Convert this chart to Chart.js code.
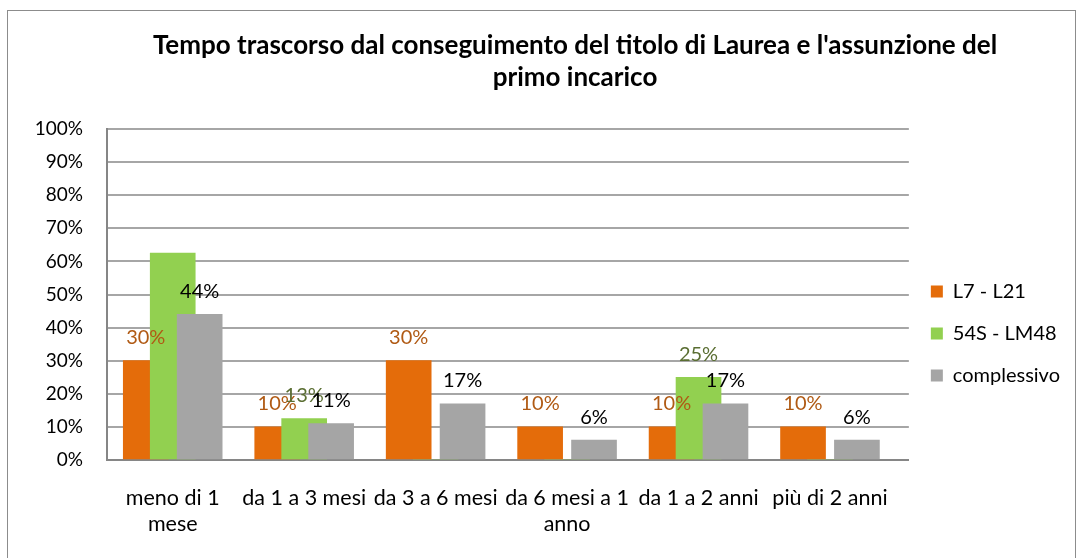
<!DOCTYPE html>
<html>
<head>
<meta charset="utf-8">
<script src="https://cdn.jsdelivr.net/npm/chart.js@4"></script>
<style>
  html, body { margin: 0; padding: 0; background: #fff; }
  #wrap { position: relative; width: 1080px; height: 558px; overflow: hidden; }
  #frame { position: absolute; left: 7px; top: 10px; width: 1067px; height: 600px; border: 1px solid #8c8c8c; }
  #myChart { position: absolute; left: 0; top: 0; }
</style>
</head>
<body>
<div id="wrap">
  <div id="frame"></div>
  <canvas id="myChart" width="1080" height="558"></canvas>
</div>
<script>
const categories = [['meno di 1', 'mese'], 'da 1 a 3 mesi', 'da 3 a 6 mesi', ['da 6 mesi a 1', 'anno'], 'da 1 a 2 anni', 'più di 2 anni'];
const l7l21 = [30, 10, 30, 10, 10, 10];
const s54lm48 = [62.5, 12.5, 0, 0, 25, 0];
const complessivo = [44, 11, 17, 6, 17, 6];
const yTicks = [0, 10, 20, 30, 40, 50, 60, 70, 80, 90, 100];
// the 63% label is not shown in the original
const greenLabelShown = [false, true, true, true, true, true];

Chart.defaults.font.family = 'Lato, "Liberation Sans", sans-serif';
Chart.defaults.color = '#000';

const shift = 0.205;
const toPoints = (arr, dx) => arr.map((v, i) => ({ x: i + dx, y: v }));

const barLabels = {
    id: 'barLabels',
    afterDatasetsDraw(chart) {
        const c = chart.ctx;
        c.save();
        c.font = '20px Lato, "Liberation Sans", sans-serif';
        c.textAlign = 'center';
        c.textBaseline = 'middle';
        chart.data.datasets.forEach((ds, di) => {
            const meta = chart.getDatasetMeta(di);
            meta.data.forEach((bar, i) => {
                const v = ds.data[i].y;
                if (!v) return;
                if (di === 1 && !greenLabelShown[i]) return;
                c.fillStyle = ds.labelColor;
                c.fillText(Math.round(v) + '%', bar.x, bar.y - 23);
            });
        });
        c.restore();
    }
};

// the title in the original sits a bit right of the canvas centre
const titleShift = {
    id: 'titleShift',
    afterLayout(chart) {
        chart.titleBlock.left = 80;
    }
};

new Chart(document.getElementById('myChart'), {
    type: 'bar',
    data: {
        datasets: [
            {
                label: 'L7 - L21',
                data: toPoints(l7l21, -shift),
                backgroundColor: '#E46C0A',
                labelColor: '#B05A14',
                order: 3
            },
            {
                label: '54S - LM48',
                data: toPoints(s54lm48, 0),
                backgroundColor: '#92D050',
                labelColor: '#5A6E32',
                order: 2
            },
            {
                label: 'complessivo',
                data: toPoints(complessivo, shift),
                backgroundColor: '#A5A5A5',
                labelColor: '#000',
                order: 1
            }
        ]
    },
    options: {
        responsive: false,
        animation: false,
        grouped: false,
        barThickness: 45,
        layout: { padding: { left: 0, right: 10, top: 0, bottom: 0 } },
        plugins: {
            title: {
                display: true,
                text: ["Tempo trascorso dal conseguimento del titolo di Laurea e l'assunzione del", 'primo incarico'],
                font: { size: 26, weight: 'bold', lineHeight: 1.25 },
                padding: { top: 29, bottom: 35 },
                color: '#000'
            },
            legend: {
                position: 'right',
                title: { display: true, text: '', font: { size: 10 }, padding: { top: 97, bottom: 0 } },
                labels: {
                    boxWidth: 12,
                    boxHeight: 12,
                    padding: 22,
                    font: { size: 20 },
                    sort: (a, b) => a.datasetIndex - b.datasetIndex
                }
            },
            tooltip: { enabled: false }
        },
        scales: {
            x: {
                type: 'linear',
                offset: false,
                min: -0.5,
                max: 5.6,
                afterBuildTicks: (scale) => { scale.ticks = categories.map((c, i) => ({ value: i })); },
                afterFit: (scale) => { scale.height = 98; },
                ticks: {
                    callback: (v) => categories[v],
                    font: { size: 21.5, lineHeight: 1.2 },
                    padding: 25,
                    maxRotation: 0,
                    autoSkip: false
                },
                grid: { display: false, drawTicks: false },
                border: { color: '#868686', width: 2 }
            },
            y: {
                min: 0,
                max: 100,
                afterBuildTicks: (scale) => { scale.ticks = yTicks.map(v => ({ value: v })); },
                afterFit: (scale) => { scale.width = 107; },
                ticks: {
                    callback: (v) => v + '%',
                    font: { size: 19 },
                    padding: 24
                },
                grid: { color: '#A6A6A6', lineWidth: 2, drawTicks: false },
                border: { color: '#868686', width: 2 }
            }
        }
    },
    plugins: [barLabels, titleShift]
});
</script>
</body>
</html>
